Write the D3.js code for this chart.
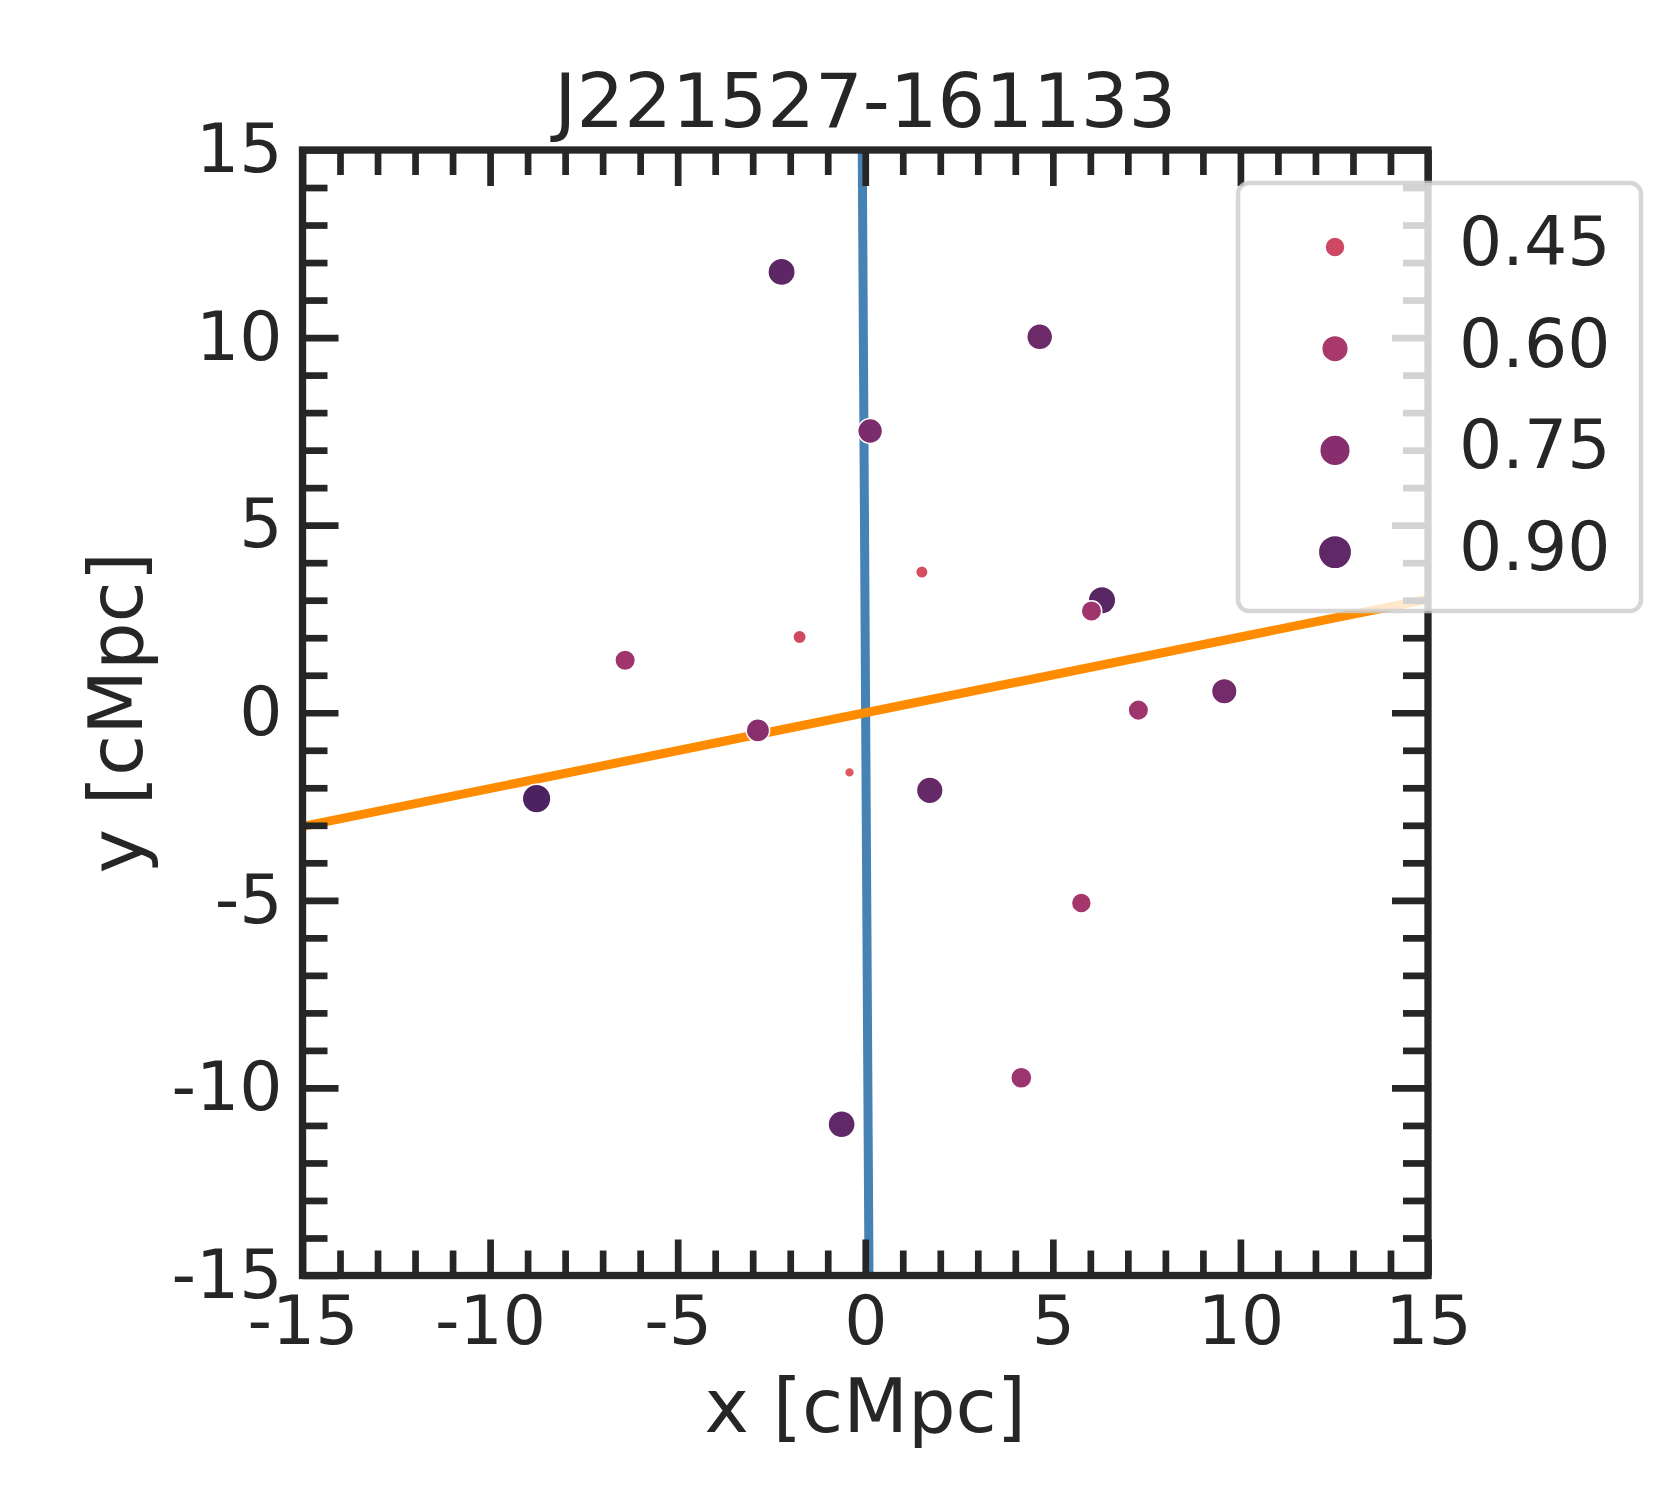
<!DOCTYPE html>
<html>
<head>
<meta charset="utf-8">
<script src="https://cdn.jsdelivr.net/npm/d3@7/dist/d3.min.js"></script>
<style>
  html, body { margin: 0; padding: 0; background: #ffffff; }
  svg { display: block; }
  text { font-family: "DejaVu Sans", sans-serif; fill: #262626; }
</style>
</head>
<body>
<svg id="chart" width="1680" height="1500"></svg>
<script>
// ---------------- data ----------------
const title = "J221527-161133";
const xLabel = "x [cMpc]";
const yLabel = "y [cMpc]";

const pointX = [-2.23, 4.65, 0.13, 1.51, -1.75, -6.40, 6.31, 6.03, 7.28, 9.57, -2.86, -0.42, -8.76, 1.72, 5.76, 4.16, -0.63];
const pointY = [11.75, 10.02, 7.51, 3.75, 2.02, 1.40, 3.00, 2.71, 0.07, 0.57, -0.47, -1.59, -2.29, -2.07, -5.07, -9.73, -10.97];
const pointV = [0.91, 0.85, 0.80, 0.42, 0.44, 0.64, 0.92, 0.64, 0.64, 0.83, 0.74, 0.37, 0.97, 0.88, 0.62, 0.66, 0.90];

const legendValues = [0.45, 0.60, 0.75, 0.90];
const legendLabels = ["0.45", "0.60", "0.75", "0.90"];

const majorTicks = [-15, -10, -5, 0, 5, 10, 15];
const majorTickLabels = ["-15", "-10", "-5", "0", "5", "10", "15"];
const minorTicks = d3.range(-15, 16).filter(v => v % 5 !== 0);

const blueLine = [[-0.08, 15], [0.10, -15]];
const orangeLine = [[-15, -3.03], [15, 3.03]];

// ---------------- drawing ----------------
(function draw() {
const svg = d3.select("#chart");
svg.append("rect").attr("width", 1680).attr("height", 1500).attr("fill", "#ffffff");

const pL = 302.5, pR = 1428, pT = 150, pB = 1275.5;
const x = d3.scaleLinear().domain([-15, 15]).range([pL, pR]);
const y = d3.scaleLinear().domain([-15, 15]).range([pB, pT]);

const color = d3.scaleLinear()
  .domain([0.35, 0.45, 0.60, 0.75, 0.90, 1.0])
  .range(["#e25c5a", "#cd4862", "#a9386c", "#882e6e", "#602867", "#43215d"])
  .interpolate(d3.interpolateRgb);
const area = d3.scaleLinear().domain([0.35, 0.97]).range([18, 205]);
const radius = v => Math.sqrt(area(v));
const legendRadius = d3.scaleLinear().domain([0.45, 0.60, 0.75, 0.90]).range([10, 13.3, 15.3, 16.7]);

const INK = "#262626";
const TICKFS = "68px";

svg.append("defs").append("clipPath").attr("id", "plotclip")
  .append("rect").attr("x", pL).attr("y", pT).attr("width", pR - pL).attr("height", pB - pT);

// lines
const line = d3.line().x(d => x(d[0])).y(d => y(d[1]));
const lines = svg.append("g").attr("clip-path", "url(#plotclip)");
lines.append("path").datum(blueLine).attr("d", line)
  .attr("fill", "none").attr("stroke", "#4682b4").attr("stroke-width", 9);
lines.append("path").datum(orangeLine).attr("d", line)
  .attr("fill", "none").attr("stroke", "#ff8c00").attr("stroke-width", 9);

// points
const pts = pointX.map((v, i) => ({ x: v, y: pointY[i], v: pointV[i] }));
svg.append("g").selectAll("circle").data(pts).join("circle")
  .attr("cx", d => x(d.x)).attr("cy", d => y(d.y))
  .attr("r", d => radius(d.v))
  .attr("fill", d => color(d.v))
  .attr("stroke", "#ffffff").attr("stroke-width", 1.5);

// axes (inward ticks)
function styleAxis(g) {
  g.select(".domain").remove();
  g.selectAll(".tick line").attr("stroke", INK).attr("stroke-width", 6.7);
  g.selectAll(".tick text").attr("fill", INK).style("font-size", TICKFS)
    .style("font-family", "'DejaVu Sans', sans-serif");
}
const fmt = v => majorTickLabels[majorTicks.indexOf(v)];
const MAJ = 36, MIN = 25;

svg.append("g").attr("transform", `translate(0,${pB})`)
  .call(d3.axisBottom(x).tickValues(minorTicks).tickSize(-MIN).tickFormat(""))
  .call(styleAxis);
svg.append("g").attr("transform", `translate(0,${pB})`)
  .call(d3.axisBottom(x).tickValues(majorTicks).tickSize(-MAJ).tickPadding(20).tickFormat(fmt))
  .call(styleAxis);
svg.append("g").attr("transform", `translate(0,${pT})`)
  .call(d3.axisTop(x).tickValues(minorTicks).tickSize(-MIN).tickFormat(""))
  .call(styleAxis);
svg.append("g").attr("transform", `translate(0,${pT})`)
  .call(d3.axisTop(x).tickValues(majorTicks).tickSize(-MAJ).tickFormat(""))
  .call(styleAxis);
svg.append("g").attr("transform", `translate(${pL},0)`)
  .call(d3.axisLeft(y).tickValues(minorTicks).tickSize(-MIN).tickFormat(""))
  .call(styleAxis);
svg.append("g").attr("transform", `translate(${pL},0)`)
  .call(d3.axisLeft(y).tickValues(majorTicks).tickSize(-MAJ).tickPadding(20).tickFormat(fmt))
  .call(styleAxis);
svg.append("g").attr("transform", `translate(${pR},0)`)
  .call(d3.axisRight(y).tickValues(minorTicks).tickSize(-MIN).tickFormat(""))
  .call(styleAxis);
svg.append("g").attr("transform", `translate(${pR},0)`)
  .call(d3.axisRight(y).tickValues(majorTicks).tickSize(-MAJ).tickFormat(""))
  .call(styleAxis);

// frame
svg.append("rect").attr("x", pL).attr("y", pT)
  .attr("width", pR - pL).attr("height", pB - pT)
  .attr("fill", "none").attr("stroke", INK).attr("stroke-width", 7.3);

// title & labels
svg.append("text").attr("x", (pL + pR) / 2).attr("y", 127)
  .attr("text-anchor", "middle").style("font-size", "75px").text(title);
svg.append("text").attr("x", (pL + pR) / 2).attr("y", 1432)
  .attr("text-anchor", "middle").style("font-size", "75px").text(xLabel);
svg.append("text").attr("transform", `translate(142,${(pT + pB) / 2}) rotate(-90)`)
  .attr("text-anchor", "middle").style("font-size", "75px").text(yLabel);

// legend
const lg = svg.append("g");
lg.append("rect").attr("x", 1238).attr("y", 183).attr("width", 403).attr("height", 428)
  .attr("rx", 11).attr("ry", 11)
  .attr("fill", "#ffffff").attr("fill-opacity", 0.8)
  .attr("stroke", "#cccccc").attr("stroke-opacity", 0.8).attr("stroke-width", 4.5);
const rowY = i => 247 + i * 101.7;
lg.selectAll("circle.leg").data(legendValues).join("circle").attr("class", "leg")
  .attr("cx", 1335).attr("cy", (d, i) => rowY(i))
  .attr("r", d => legendRadius(d))
  .attr("fill", d => color(d))
  .attr("stroke", "#ffffff").attr("stroke-width", 1.5);
lg.selectAll("text.leg").data(legendLabels).join("text").attr("class", "leg")
  .attr("x", 1459).attr("y", (d, i) => rowY(i) + 18)
  .style("font-size", TICKFS).text(d => d);
})();
</script>
</body>
</html>
